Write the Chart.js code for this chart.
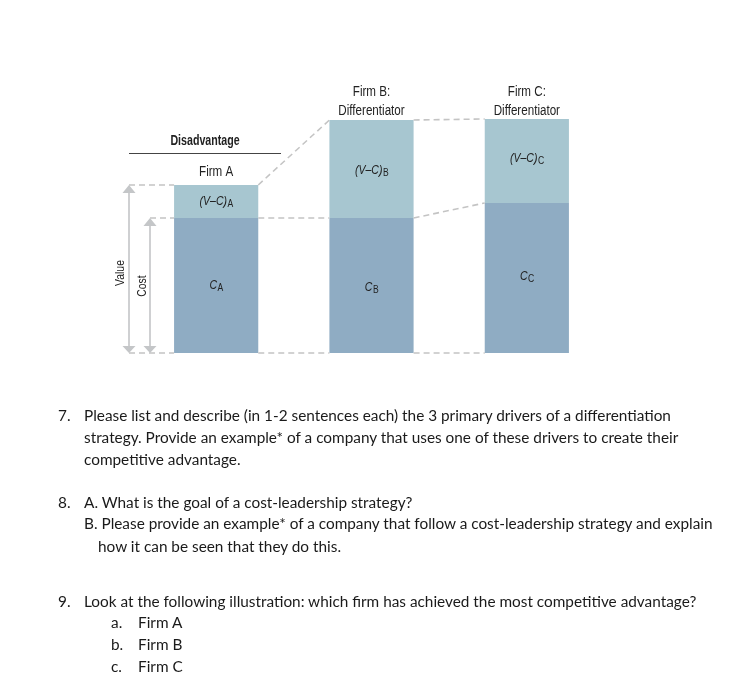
<!DOCTYPE html>
<html>
<head>
<meta charset="utf-8">
<title>Firm comparison</title>
<script src="https://cdn.jsdelivr.net/npm/chart.js@4"></script>
<style>
  html, body { margin: 0; padding: 0; background: #fff; }
  #wrap { position: relative; width: 734px; height: 696px; overflow: hidden; }
  #chart { position: absolute; left: 0; top: 0; }
  .q { position: absolute; white-space: nowrap; font: 15.35px/22px Lato, Carlito, sans-serif; color: #1a1a1a; }
</style>
</head>
<body>
<div id="wrap">
  <canvas id="chart" width="734" height="696"></canvas>
  <div class="q" style="left:58px;top:404px">7.</div>
  <div class="q" style="left:84px;top:404px">Please list and describe (in 1-2 sentences each) the 3 primary drivers of a differentiation</div>
  <div class="q" style="left:84px;top:426px">strategy. Provide an example* of a company that uses one of these drivers to create their</div>
  <div class="q" style="left:84px;top:448px">competitive advantage.</div>
  <div class="q" style="left:58px;top:491px">8.</div>
  <div class="q" style="left:84px;top:491px">A. What is the goal of a cost-leadership strategy?</div>
  <div class="q" style="left:84px;top:512px">B. Please provide an example* of a company that follow a cost-leadership strategy and explain</div>
  <div class="q" style="left:98px;top:535px">how it can be seen that they do this.</div>
  <div class="q" style="left:58px;top:590px">9.</div>
  <div class="q" style="left:84px;top:590px">Look at the following illustration: which firm has achieved the most competitive advantage?</div>
  <div class="q" style="left:111px;top:611px">a.</div>
  <div class="q" style="left:138px;top:611px">Firm A</div>
  <div class="q" style="left:111px;top:633px">b.</div>
  <div class="q" style="left:138px;top:633px">Firm B</div>
  <div class="q" style="left:111px;top:655px">c.</div>
  <div class="q" style="left:138px;top:655px">Firm C</div>
</div>
<script>
"use strict";

var firms = ["A", "B", "C"];
var costValues = [135, 135, 150];
var marginValues = [33, 98, 84];
var yMax = 234;

var COST = "#8facc3";
var MARGIN = "#a7c6d0";
var DASH = "#c4c4c4";
var ARROW = "#cfd0d2";
var INK = "#222";
var FACE = '"Liberation Sans", sans-serif';
var SQUEEZE = 0.83;

// no condensed font installed, so squeeze the text horizontally
function text(ctx, str, x, y, font, align, squeeze) {
  ctx.save();
  ctx.translate(x, y);
  ctx.scale(squeeze || SQUEEZE, 1);
  ctx.font = font;
  ctx.textAlign = align || "center";
  ctx.textBaseline = "middle";
  ctx.fillStyle = INK;
  ctx.fillText(str, 0, 0);
  ctx.restore();
}

// italic label with a small upright subscript, centred on x
function subLabel(ctx, main, sub, x, y) {
  ctx.font = "italic 13.5px " + FACE;
  var w1 = ctx.measureText(main).width * 0.78;
  ctx.font = "11px " + FACE;
  var w2 = ctx.measureText(sub).width * 0.78;
  var left = x - (w1 + w2) / 2;
  text(ctx, main, left, y, "italic 13.5px " + FACE, "left", 0.78);
  text(ctx, sub, left + w1 + 0.5, y + 3, "11px " + FACE, "left", 0.78);
}

function dashed(ctx, x1, y1, x2, y2) {
  ctx.save();
  ctx.strokeStyle = DASH;
  ctx.lineWidth = 1.6;
  ctx.setLineDash([6, 4]);
  ctx.beginPath();
  ctx.moveTo(x1, y1);
  ctx.lineTo(x2, y2);
  ctx.stroke();
  ctx.restore();
}

function arrow(ctx, x, yTop, yBottom) {
  ctx.save();
  ctx.strokeStyle = ARROW;
  ctx.fillStyle = "#c4c6c8";
  ctx.lineWidth = 2;
  ctx.beginPath();
  ctx.moveTo(x, yTop + 4);
  ctx.lineTo(x, yBottom - 4);
  ctx.stroke();
  ctx.beginPath();
  ctx.moveTo(x, yTop);
  ctx.lineTo(x - 6.5, yTop + 8);
  ctx.lineTo(x + 6.5, yTop + 8);
  ctx.closePath();
  ctx.fill();
  ctx.beginPath();
  ctx.moveTo(x, yBottom);
  ctx.lineTo(x - 6.5, yBottom - 7);
  ctx.lineTo(x + 6.5, yBottom - 7);
  ctx.closePath();
  ctx.fill();
  ctx.restore();
}

function rotated(ctx, str, x, y) {
  ctx.save();
  ctx.translate(x, y);
  ctx.rotate(-Math.PI / 2);
  text(ctx, str, 0, 0, "13px " + FACE, "center", 0.8);
  ctx.restore();
}

var annotations = {
  id: "annotations",
  afterDatasetsDraw: function (chart) {
    var ctx = chart.ctx;
    var y = chart.scales.y;
    var bars = chart.getDatasetMeta(0).data;
    var half = bars[0].width / 2;
    var base = y.getPixelForValue(0);
    var costTop = costValues.map(function (c) { return y.getPixelForValue(c); });
    var valueTop = costValues.map(function (c, i) { return y.getPixelForValue(c + marginValues[i]); });
    var ax = bars[0].x - half, bx = bars[1].x - half, cx = bars[2].x - half;
    var w = half * 2;

    // connectors between the bars
    dashed(ctx, 129, valueTop[0], ax, valueTop[0]);
    dashed(ctx, 150, costTop[0], ax, costTop[0]);
    dashed(ctx, 129, base, ax, base);
    dashed(ctx, ax + w, valueTop[0], bx, valueTop[1]);
    dashed(ctx, bx + w, valueTop[1], cx, valueTop[2]);
    dashed(ctx, ax + w, costTop[0], bx, costTop[1]);
    dashed(ctx, bx + w, costTop[1], cx, costTop[2]);
    dashed(ctx, ax + w, base, bx, base);
    dashed(ctx, bx + w, base, cx, base);

    arrow(ctx, 129, valueTop[0], base);
    arrow(ctx, 150, costTop[0], base);
    rotated(ctx, "Value", 120, 273);
    rotated(ctx, "Cost", 142, 286);

    // headings
    text(ctx, "Disadvantage", 205, 141, "bold 14px " + FACE, "center", 0.76);
    ctx.strokeStyle = "#444";
    ctx.lineWidth = 1;
    ctx.beginPath();
    ctx.moveTo(129, 153.5);
    ctx.lineTo(281, 153.5);
    ctx.stroke();
    text(ctx, "Firm A", bars[0].x, 172, "14px " + FACE);
    text(ctx, "Firm B:", bars[1].x, 92, "14px " + FACE);
    text(ctx, "Differentiator", bars[1].x, 111, "14px " + FACE);
    text(ctx, "Firm C:", bars[2].x, 92, "14px " + FACE);
    text(ctx, "Differentiator", bars[2].x, 111, "14px " + FACE);

    // labels inside the bars
    var marginY = [201, 170, 158];
    var costY = [285, 287, 276];
    firms.forEach(function (f, i) {
      subLabel(ctx, "(V\u2013C)", f, bars[i].x, marginY[i]);
      subLabel(ctx, "C", f, bars[i].x, costY[i]);
    });
  }
};

new Chart(document.getElementById("chart"), {
  type: "bar",
  data: {
    labels: firms,
    datasets: [
      { label: "Cost", data: costValues, backgroundColor: COST, stack: "s", borderWidth: 0 },
      { label: "Value minus cost", data: marginValues, backgroundColor: MARGIN, stack: "s", borderWidth: 0 }
    ]
  },
  options: {
    responsive: false,
    animation: false,
    events: [],
    barPercentage: 0.542,
    categoryPercentage: 1,
    layout: { padding: { left: 138.5, right: 129.5, top: 119, bottom: 343 } },
    plugins: { legend: { display: false }, tooltip: { enabled: false } },
    scales: {
      x: { display: false, stacked: true },
      y: { display: false, stacked: true, min: 0, max: yMax }
    }
  },
  plugins: [annotations]
});
</script>
</body>
</html>
